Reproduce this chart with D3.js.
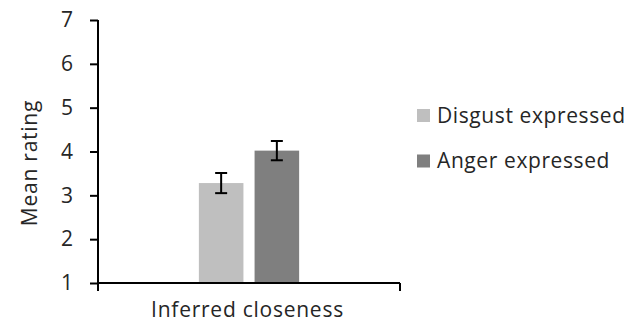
<!DOCTYPE html>
<html><head><meta charset="utf-8">
<script src="https://cdn.jsdelivr.net/npm/d3@7"></script>
<style>body{margin:0;background:#fff}svg{display:block}text{font-family:"Open Sans",sans-serif;fill:#262626}</style>
</head><body><svg id="c" width="633" height="324"></svg>
<script>
const categories = ["Inferred closeness"];
const seriesNames = ["Disgust expressed", "Anger expressed"];
const seriesColors = ["#bfbfbf", "#7f7f7f"];
const means = [[3.28, 4.02]];
const errors = [[0.23, 0.22]];
const yTicks = [1, 2, 3, 4, 5, 6, 7];
const yTitle = "Mean rating";

const svg = d3.select("#c");
const fs = 21, ls = "0.6px";
const y = d3.scaleLinear().domain([1, 7]).range([283, 20]);
const x0 = d3.scaleBand().domain(categories).range([98, 400]).padding(0);
const x1 = d3.scaleBand().domain(seriesNames)
  .range([x0.bandwidth() * 0.334, x0.bandwidth() * 0.666]).paddingInner(0.2).paddingOuter(0);

// bars
categories.forEach((c, ci) => {
  const g = svg.append("g").attr("transform", `translate(${x0(c)},0)`);
  seriesNames.forEach((s, si) => {
    const v = means[ci][si], e = errors[ci][si];
    g.append("rect").attr("x", x1(s)).attr("width", x1.bandwidth())
      .attr("y", y(v)).attr("height", y(1) - y(v)).attr("fill", seriesColors[si]);
    const cx = x1(s) + x1.bandwidth() / 2;
    g.append("line").attr("x1", cx).attr("x2", cx).attr("y1", y(v + e)).attr("y2", y(v - e))
      .attr("stroke", "#000").attr("stroke-width", 2);
    [v + e, v - e].forEach(t => g.append("line").attr("x1", cx - 6).attr("x2", cx + 6)
      .attr("y1", y(t)).attr("y2", y(t)).attr("stroke", "#000").attr("stroke-width", 2));
  });
});

// y axis
const ya = svg.append("g").attr("transform", "translate(98,0)")
  .call(d3.axisLeft(y).tickValues(yTicks).tickSize(8).tickPadding(17).tickFormat(d3.format("d")));
ya.select(".domain").remove();
ya.selectAll(".tick line").attr("stroke", "#000").attr("stroke-width", 2);
ya.selectAll(".tick text").attr("font-size", fs).attr("font-family", "Open Sans").attr("fill", "#262626");
svg.append("line").attr("x1", 98).attr("x2", 98).attr("y1", y(7)).attr("y2", y(1) + 8)
  .attr("stroke", "#000").attr("stroke-width", 2);

// x axis
svg.append("line").attr("x1", x0.range()[0]).attr("x2", x0.range()[1]).attr("y1", y(1)).attr("y2", y(1))
  .attr("stroke", "#000").attr("stroke-width", 2);
svg.append("line").attr("x1", x0.range()[1]).attr("x2", x0.range()[1]).attr("y1", y(1)).attr("y2", y(1) + 8)
  .attr("stroke", "#000").attr("stroke-width", 2);
categories.forEach(c => svg.append("text").attr("x", x0(c) + x0.bandwidth() / 2 - 1.5).attr("y", 317)
  .attr("text-anchor", "middle").attr("font-size", fs).attr("letter-spacing", "0.75px").text(c));

// y title
svg.append("text").attr("transform", "translate(37,163) rotate(-90)").attr("text-anchor", "middle")
  .attr("font-size", fs).attr("letter-spacing", "0.75px").text(yTitle);

// legend
const lg = svg.append("g").attr("transform", "translate(417,0)");
seriesNames.forEach((s, i) => {
  const cy = 115.5 + i * 45.5;
  lg.append("rect").attr("x", 0).attr("y", cy - 6.5).attr("width", 13).attr("height", 13).attr("fill", seriesColors[i]);
  lg.append("text").attr("x", 20).attr("y", cy).attr("dy", "0.35em").attr("font-size", fs)
    .attr("letter-spacing", ls).text(s);
});
</script></body></html>
